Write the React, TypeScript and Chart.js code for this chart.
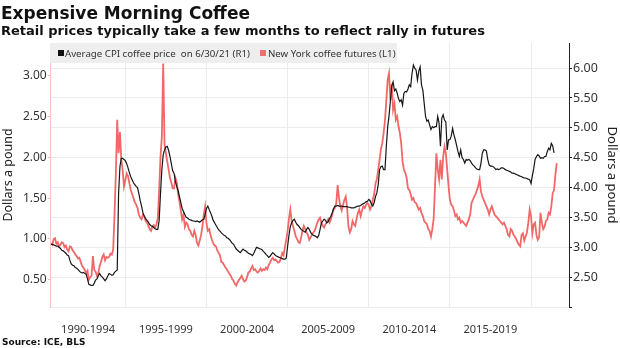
import React, { useEffect, useRef } from "react";
import { Chart, registerables } from "chart.js";

Chart.register(...registerables);

// Monthly series, first value = June 1990
const START_YEAR = 1990;
const START_MONTH = 6;

// New York coffee futures (L1), $/lb
const futures1990s = [
  0.95, 0.93, 1.0, 1.01, 0.94, 0.96, 0.91,
  0.93, 0.96, 0.95, 0.9, 0.92, 0.87, 0.85, 0.91, 0.9, 0.86, 0.84, 0.81,
  0.79, 0.76, 0.77, 0.72, 0.67, 0.65, 0.62, 0.58, 0.61, 0.5, 0.53, 0.55,
  0.79, 0.62, 0.6, 0.55, 0.58, 0.67, 0.72, 0.78, 0.81, 0.74, 0.78, 0.77,
  0.78, 0.82, 0.81, 0.87, 1.3, 1.81, 2.46, 2.05, 2.31, 1.97, 1.85, 1.64,
  1.72, 1.8, 1.77, 1.68, 1.6, 1.55, 1.5, 1.45, 1.42, 1.38, 1.3, 1.26,
  1.24, 1.3, 1.28, 1.22, 1.2, 1.16, 1.12, 1.1, 1.15, 1.17, 1.14, 1.18,
  1.25, 1.6, 2.01, 2.25, 3.15, 2.15, 2.05, 1.95, 1.85, 1.75, 1.69, 1.62,
  1.62, 1.75, 1.7, 1.55, 1.46, 1.35, 1.24, 1.3, 1.15, 1.2, 1.18, 1.12,
  1.1, 1.05, 1.03, 1.1, 1.05, 0.95, 0.92, 0.98, 1.05, 1.15, 1.3, 1.4,
];
const futures2000s = [
  1.19, 1.1, 1.12, 1.05, 0.99, 0.95, 0.92, 0.91, 0.86, 0.83, 0.8, 0.72,
  0.71, 0.68, 0.65, 0.63, 0.6, 0.57, 0.55, 0.51, 0.49, 0.45, 0.43, 0.47,
  0.5, 0.52, 0.55, 0.51, 0.48, 0.49, 0.53, 0.59, 0.6, 0.64, 0.67, 0.62,
  0.63, 0.6, 0.59, 0.61, 0.64, 0.61, 0.63, 0.62, 0.65, 0.63, 0.68, 0.71,
  0.75, 0.77, 0.74, 0.75, 0.73, 0.71, 0.72, 0.76, 0.83, 0.8, 0.9, 0.99,
  1.1, 1.25, 1.36, 1.22, 1.16, 1.1, 1.03, 1.0, 0.96, 0.95, 1.02, 1.1,
  1.16, 1.12, 1.08, 1.05, 0.99, 1.02, 1.05, 1.08, 1.1, 1.15, 1.2, 1.24,
  1.26, 1.2, 1.16, 1.14, 1.18, 1.2, 1.24, 1.2, 1.24, 1.3, 1.36, 1.38,
  1.44, 1.66, 1.5, 1.4, 1.35, 1.42, 1.48, 1.52, 1.38, 1.15, 1.08, 1.12,
  1.22, 1.18, 1.16, 1.25, 1.32, 1.36, 1.28, 1.35, 1.4, 1.38, 1.42, 1.44,
];
const futures2010s = [
  1.42, 1.36, 1.4, 1.48, 1.55, 1.68, 1.73, 1.85, 1.97, 2.1, 2.17, 2.3,
  2.45, 2.7, 2.95, 3.03, 2.7, 2.9, 2.58, 2.66, 2.46, 2.5, 2.38, 2.3,
  2.17, 1.95, 1.85, 1.81, 1.75, 1.62, 1.6, 1.55, 1.48, 1.5, 1.45, 1.44,
  1.4, 1.36, 1.38, 1.32, 1.28, 1.22, 1.2, 1.18, 1.12, 1.1, 1.03, 1.12,
  1.25, 1.64, 2.05, 1.85, 1.73, 1.97, 1.73, 2.0, 2.13, 2.05, 1.85, 1.65,
  1.48, 1.42, 1.4, 1.35, 1.28, 1.3, 1.24, 1.26, 1.2, 1.22, 1.2, 1.18,
  1.16, 1.2, 1.24, 1.3, 1.44, 1.48, 1.52, 1.55, 1.6, 1.65, 1.73, 1.58,
  1.52, 1.48, 1.44, 1.4, 1.36, 1.3, 1.36, 1.4, 1.35, 1.3, 1.28, 1.26,
  1.24, 1.22, 1.2, 1.18, 1.2, 1.16, 1.12, 1.05, 1.03, 1.12, 1.1, 1.05,
  1.03, 1.0, 0.96, 0.93, 0.91, 1.05, 1.07, 0.98, 1.03, 1.08, 1.2, 1.36,
];
const futures2020s = [
  1.28, 1.07, 1.18, 1.2, 1.05, 0.99, 1.02, 1.32, 1.2, 1.12, 1.15, 1.22,
  1.24, 1.32, 1.3, 1.4, 1.56, 1.6, 1.78, 1.93,
];

// Average CPI coffee price (R1), $/lb
const cpi1990s = [
  3.05, 3.05, 3.04, 3.03, 3.02, 3.02, 3.0,
  2.98, 2.95, 2.94, 2.92, 2.9, 2.87, 2.86, 2.78, 2.72, 2.7, 2.69, 2.66,
  2.65, 2.63, 2.6, 2.58, 2.57, 2.58, 2.56, 2.55, 2.47, 2.38, 2.37, 2.36,
  2.36, 2.4, 2.45, 2.47, 2.52, 2.56, 2.52, 2.5, 2.47, 2.44, 2.47, 2.52,
  2.56, 2.55, 2.53, 2.54, 2.58, 2.6, 2.62, 3.9, 4.35, 4.49, 4.49, 4.47,
  4.45, 4.4, 4.33, 4.25, 4.18, 4.13, 4.08, 4.05, 4.02, 4.0, 3.9, 3.78,
  3.69, 3.58, 3.52, 3.48, 3.45, 3.42, 3.38, 3.36, 3.35, 3.33, 3.31, 3.3,
  3.3, 3.45, 3.9, 4.3, 4.55, 4.63, 4.68, 4.69, 4.62, 4.52, 4.4, 4.28,
  4.24, 4.1, 4.02, 3.95, 3.85, 3.75, 3.65, 3.6, 3.55, 3.5, 3.49, 3.47,
  3.46, 3.45, 3.44, 3.44, 3.43, 3.44, 3.43, 3.42, 3.44, 3.46, 3.47, 3.55,
];
const cpi2000s = [
  3.65, 3.69, 3.63, 3.58, 3.52, 3.45, 3.41, 3.37, 3.33, 3.29, 3.27, 3.24,
  3.22, 3.2, 3.19, 3.16, 3.15, 3.13, 3.1, 3.07, 3.05, 3.01, 2.97, 2.95,
  2.93, 2.91, 2.94, 2.97, 2.95, 2.94, 2.92, 2.9, 2.89, 2.88, 2.86, 2.9,
  2.95, 3.0, 2.99, 2.98, 2.97, 2.96, 2.93, 2.91, 2.88, 2.86, 2.83, 2.85,
  2.88, 2.91, 2.89, 2.86, 2.85, 2.84, 2.83, 2.82, 2.81, 2.8, 2.8, 2.82,
  3.02, 3.2, 3.35, 3.41, 3.45, 3.47, 3.42, 3.38, 3.36, 3.33, 3.3, 3.28,
  3.27, 3.25, 3.3, 3.33, 3.3, 3.25, 3.22, 3.2, 3.19, 3.18, 3.16, 3.2,
  3.3, 3.41, 3.44, 3.47, 3.45, 3.41, 3.43, 3.48, 3.52, 3.58, 3.65, 3.69,
  3.69, 3.7, 3.69, 3.69, 3.69, 3.68, 3.68, 3.68, 3.68, 3.67, 3.67, 3.66,
  3.66, 3.66, 3.67, 3.68, 3.69, 3.69, 3.7, 3.72, 3.73, 3.74, 3.76, 3.77,
];
const cpi2010s = [
  3.8, 3.78, 3.72, 3.69, 3.75, 3.85, 3.91, 4.05, 4.3, 4.35, 4.36, 4.3,
  4.3, 4.69, 5.02, 5.2, 5.45, 5.7, 5.77, 5.62, 5.65, 5.58, 5.49, 5.44,
  5.47, 5.38, 5.58, 5.61, 5.6, 5.65, 5.72, 5.69, 5.91, 6.05, 6.0, 5.97,
  5.8, 5.95, 6.02, 5.72, 5.63, 5.41, 5.19, 5.11, 5.13, 5.05, 4.97, 5.02,
  5.0, 5.02, 5.02, 5.19, 5.08, 4.69, 5.16, 5.22, 5.13, 5.1, 4.63, 4.8,
  4.8, 4.86, 4.99, 4.88, 4.8, 4.7, 4.6, 4.52, 4.63, 4.5, 4.47, 4.41,
  4.47, 4.46, 4.47, 4.45, 4.41, 4.38, 4.36, 4.33, 4.31, 4.3, 4.3, 4.41,
  4.58, 4.63, 4.63, 4.61, 4.47, 4.38, 4.36, 4.36, 4.35, 4.33, 4.3, 4.31,
  4.3, 4.31, 4.33, 4.33, 4.32, 4.3, 4.29, 4.28, 4.27, 4.26, 4.24, 4.24,
  4.23, 4.22, 4.21, 4.2, 4.19, 4.18, 4.17, 4.16, 4.16, 4.15, 4.14, 4.13,
];
const cpi2020s = [
  4.07, 4.2, 4.32, 4.47, 4.52, 4.55, 4.53, 4.49, 4.5, 4.49, 4.52, 4.52,
  4.6, 4.66, 4.63, 4.74, 4.7, 4.58,
];

const LEFT_TICKS = [0.5, 1.0, 1.5, 2.0, 2.5, 3.0];
const RIGHT_TICKS = [2.0, 2.5, 3.0, 3.5, 4.0, 4.5, 5.0, 5.5, 6.0];
const PERIOD_STARTS = [1990, 1995, 2000, 2005, 2010, 2015];
const PERIOD_LABELS = ["1990-1994", "1995-1999", "2000-2004", "2005-2009", "2010-2014", "2015-2019"];

const X_MIN = 1990.4;
const X_MAX = 2022.34;

function toPoints(values: number[]) {
  return values.map((v, i) => ({ x: START_YEAR + (START_MONTH - 1 + i) / 12, y: v }));
}

const UI_FONT = "'Noto Sans', 'DejaVu Sans', sans-serif";
const HEAD_FONT = "'DejaVu Sans', 'Noto Sans', sans-serif";

export default function App() {
  const canvasRef = useRef<HTMLCanvasElement | null>(null);

  useEffect(() => {
    if (!canvasRef.current) return;
    const futures = [...futures1990s, ...futures2000s, ...futures2010s, ...futures2020s];
    const cpi = [...cpi1990s, ...cpi2000s, ...cpi2010s, ...cpi2020s];

    const labelCenters = PERIOD_STARTS.map((s) => (Math.max(s, X_MIN) + Math.min(s + 5, X_MAX)) / 2);
    const boundaries = PERIOD_STARTS.slice(1).concat([2020]);

    const chart = new Chart(canvasRef.current, {
      type: "line",
      data: {
        datasets: [
          {
            label: "Average CPI coffee price  on 6/30/21 (R1)",
            data: toPoints(cpi),
            yAxisID: "yR",
            borderColor: "#161616",
            borderWidth: 1.2,
            pointRadius: 0,
            tension: 0,
          },
          {
            label: "New York coffee futures (L1)",
            data: toPoints(futures),
            yAxisID: "yL",
            borderColor: "#f26868",
            borderWidth: 1.8,
            pointRadius: 0,
            tension: 0,
          },
        ],
      },
      options: {
        responsive: false,
        animation: false,
        parsing: false as any,
        layout: { padding: { top: 43, left: 0, right: 0, bottom: 0 } },
        plugins: { legend: { display: false }, tooltip: { enabled: false } },
        scales: {
          x: {
            type: "linear",
            min: X_MIN,
            max: X_MAX,
            afterBuildTicks: (s: any) => {
              const t = boundaries.map((v) => ({ value: v })).concat(labelCenters.map((v) => ({ value: v })));
              t.sort((a, b) => a.value - b.value);
              s.ticks = t;
            },
            afterFit: (s: any) => {
              s.height = 41;
            },
            grid: {
              drawTicks: false,
              color: (ctx: any) =>
                ctx.tick && boundaries.indexOf(ctx.tick.value) >= 0 ? "#ececec" : "rgba(0,0,0,0)",
            },
            border: { display: true, color: "#ececec" },
            ticks: {
              autoSkip: false,
              maxRotation: 0,
              padding: 16,
              color: "#333",
              font: { family: UI_FONT, size: 11 },
              callback: (v: any) => {
                const idx = labelCenters.findIndex((c) => Math.abs(c - Number(v)) < 1e-6);
                return idx >= 0 ? PERIOD_LABELS[idx] : "";
              },
            },
          },
          yL: {
            type: "linear",
            position: "left",
            min: 0.167,
            max: 3.4,
            afterBuildTicks: (s: any) => {
              s.ticks = LEFT_TICKS.map((v) => ({ value: v }));
            },
            afterFit: (s: any) => {
              s.width = 50.7;
            },
            grid: { drawOnChartArea: false, drawTicks: true, tickLength: 3, color: "#f2b8b8" },
            border: { display: true, color: "#f5c6c6" },
            ticks: {
              padding: 1,
              color: "#333",
              font: { family: UI_FONT, size: 12 },
              callback: (v: any) => Number(v).toFixed(2),
            },
            title: {
              display: true,
              text: "Dollars a pound",
              color: "#222",
              font: { family: UI_FONT, size: 12.5 },
              padding: { top: 1, bottom: 0 },
            },
          },
          yR: {
            type: "linear",
            position: "right",
            min: 2.0,
            max: 6.42,
            afterBuildTicks: (s: any) => {
              s.ticks = RIGHT_TICKS.map((v) => ({ value: v }));
            },
            afterFit: (s: any) => {
              s.width = 51;
            },
            grid: {
              drawOnChartArea: true,
              drawTicks: true,
              tickLength: 3,
              color: (ctx: any) => (ctx.tick && ctx.tick.value === 2 ? "rgba(0,0,0,0)" : "#ececec"),
              tickColor: "#222",
            },
            border: { display: true, color: "#222" },
            ticks: {
              padding: 1,
              color: "#333",
              font: { family: UI_FONT, size: 12.5 },
              callback: (v: any) => (Number(v) === 2 ? "" : Number(v).toFixed(2)),
            },
            title: {
              display: true,
              text: "Dollars a pound",
              color: "#222",
              font: { family: UI_FONT, size: 13 },
              padding: { top: 0, bottom: 0 },
            },
          },
        },
      } as any,
    });
    return () => chart.destroy();
  }, []);

  const wrap: React.CSSProperties = {
    position: "absolute",
    left: 0,
    top: 0,
    width: 620,
    height: 348,
    background: "#fff",
    overflow: "hidden",
  };

  const square = (color: string, ml: number, mr: number): React.CSSProperties => ({
    display: "block",
    flex: "0 0 auto",
    width: 6,
    height: 6,
    background: color,
    marginLeft: ml,
    marginRight: mr,
  });

  return (
    <div style={wrap}>
      <canvas ref={canvasRef} width={620} height={348} style={{ position: "absolute", left: 0, top: 0 }} />
      <div
        style={{
          position: "absolute",
          left: 1,
          top: 5,
          font: `bold 17px ${HEAD_FONT}`,
          lineHeight: "17px",
          color: "#111",
          whiteSpace: "nowrap",
        }}
      >
        Expensive Morning Coffee
      </div>
      <div
        style={{
          position: "absolute",
          left: 1,
          top: 24,
          font: `bold 13px ${HEAD_FONT}`,
          lineHeight: "13px",
          color: "#111",
          whiteSpace: "nowrap",
        }}
      >
        Retail prices typically take a few months to reflect rally in futures
      </div>
      <div
        style={{
          position: "absolute",
          left: 50,
          top: 43,
          width: 347,
          height: 20,
          background: "#eeeeee",
          display: "flex",
          alignItems: "center",
          font: `9.7px ${UI_FONT}`,
          color: "#333",
          whiteSpace: "pre",
          overflow: "hidden",
        }}
      >
        <span style={square("#111", 8, 1)} />
        <span style={{ flex: "0 0 auto" }}>Average CPI coffee price  on 6/30/21 (R1)</span>
        <span style={square("#f07070", 10, 2)} />
        <span style={{ flex: "0 0 auto" }}>New York coffee futures (L1)</span>
      </div>
      <div
        style={{
          position: "absolute",
          left: 2,
          top: 337,
          font: `bold 9px ${HEAD_FONT}`,
          lineHeight: "10px",
          color: "#111",
          whiteSpace: "nowrap",
        }}
      >
        Source: ICE, BLS
      </div>
    </div>
  );
}
